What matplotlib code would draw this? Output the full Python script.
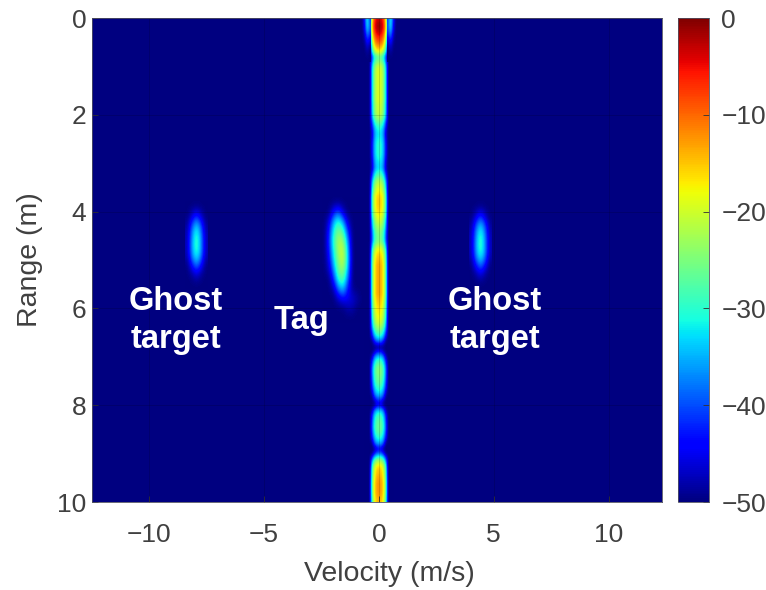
import numpy as np
import matplotlib
matplotlib.use('Agg')
import matplotlib.pyplot as plt

plt.rcParams['font.family'] = ['Liberation Sans', 'DejaVu Sans']

#Peak level of the zero-velocity column, every 0.1 m of range (dB)
center_range = np.arange(101) / 10
center_peak = [
    -3, -1.5, -1, -3, -6, -9, -13, -18, -27, -24,
    -20, -19, -19, -19, -19, -19, -19, -19, -20, -20,
    -21, -24, -28, -31, -32, -31, -30, -30, -30, -31,
    -32, -33, -29, -25, -21, -19, -17, -15, -15, -15,
    -16, -18, -20, -22, -24, -25, -25, -21, -17, -15,
    -14, -13, -13, -13, -13, -13, -13, -13, -14, -15,
    -16, -17, -18, -20, -23, -27, -32, -40, -50, -42,
    -33, -28, -25, -24, -25, -26, -28, -31, -35, -42,
    -45, -34, -29, -27, -26, -26, -28, -31, -36, -45,
    -38, -26, -19, -15, -14, -13, -12, -12, -12, -13,
    -14,
]
#Drop across the column, going out from its centre
center_offset = [-0.6, -0.5, -0.4, -0.3, -0.2, -0.1, 0, 0.1, 0.2, 0.3, 0.4, 0.5, 0.6]
center_drop = [80, 80, 38, 14, 5, 1, 0, 1, 5, 14, 38, 80, 80]
center_velocity = -0.02

#Thin side lobes at the top of the column
lobe_offset = [0.4, 0.5, 0.6, 0.7]
lobe_range = [0, 0.2, 0.4, 0.6, 0.8]
lobe_db = [
    [-41, -30, -42, -50],
    [-39, -31, -44, -50],
    [-44, -40, -48, -50],
    [-50, -47, -50, -50],
    [-50, -50, -50, -50],
]

#Ghost targets
ghost_velocity = [-7.93, 4.44]
ghost_offset = [-0.4, -0.2, 0, 0.2, 0.4]
ghost_range = [3.9, 4.1, 4.3, 4.5, 4.7, 4.9, 5.1, 5.3, 5.5]
ghost_db = [
    [-50, -50, -50, -50, -50],
    [-50, -47, -42, -47, -50],
    [-49, -40, -33, -40, -49],
    [-48, -37, -29, -37, -48],
    [-48, -36, -28, -36, -48],
    [-48, -37, -30, -37, -48],
    [-50, -43, -37, -43, -50],
    [-50, -49, -46, -49, -50],
    [-50, -50, -50, -50, -50],
]

#Tag
tag_velocity = [-2.4, -2.2, -2.0, -1.8, -1.6, -1.4, -1.2, -1.0, -0.8]
tag_range = [3.8, 4.0, 4.2, 4.4, 4.6, 4.8, 5.0, 5.2, 5.4, 5.6, 5.8, 6.0, 6.2]
tag_db = [
    [-50, -50, -50, -50, -50, -50, -50, -50, -50],
    [-50, -50, -44, -40, -47, -50, -50, -50, -50],
    [-50, -46, -35, -30, -36, -47, -50, -50, -50],
    [-50, -43, -31, -25, -28, -41, -50, -50, -50],
    [-50, -42, -29, -22, -23, -36, -50, -50, -50],
    [-50, -43, -31, -22, -20, -33, -50, -50, -50],
    [-50, -45, -33, -24, -20, -32, -50, -50, -50],
    [-50, -47, -37, -26, -23, -34, -50, -50, -50],
    [-50, -50, -42, -30, -27, -38, -50, -50, -50],
    [-50, -50, -48, -38, -34, -43, -49, -50, -50],
    [-50, -50, -50, -47, -44, -45, -46, -48, -50],
    [-50, -50, -50, -50, -50, -48, -48, -50, -50],
    [-50, -50, -50, -50, -50, -50, -50, -50, -50],
]

x_ticks = [-10, -5, 0, 5, 10]
y_ticks = [0, 2, 4, 6, 8, 10]
cbar_ticks = [0, -10, -20, -30, -40, -50]
text_color = '#404040'


def draw_patch(ax, vel, rng, values):
    #imshow wants the outer edges of the cells, not their centres
    dv = (vel[-1] - vel[0]) / (len(vel) - 1) / 2
    dr = (rng[-1] - rng[0]) / (len(rng) - 1) / 2
    ext = [vel[0] - dv, vel[-1] + dv, rng[-1] + dr, rng[0] - dr]
    return ax.imshow(values, extent=ext, cmap='jet', vmin=-50, vmax=0, aspect='auto',
                     interpolation='bicubic', interpolation_stage='data')


fig = plt.figure(figsize=(7.66, 5.9), dpi=100)
ax = fig.add_axes([92 / 766, 88 / 590, 570 / 766, 484 / 590])
ax.set_facecolor(plt.get_cmap('jet')(0.0))

center_db = np.clip(np.subtract.outer(center_peak, center_drop), -50, 0)
im = draw_patch(ax, np.array(center_offset) + center_velocity, center_range, center_db)
draw_patch(ax, np.array(lobe_offset) + center_velocity, lobe_range, lobe_db)
draw_patch(ax, center_velocity - np.array(lobe_offset), lobe_range, lobe_db)
for v in ghost_velocity:
    draw_patch(ax, np.array(ghost_offset) + v, ghost_range, ghost_db)
draw_patch(ax, tag_velocity, tag_range, tag_db)

ax.set_xlim(-12.5, 12.33)
ax.set_ylim(10, 0)
ax.set_xticks(x_ticks)
ax.set_yticks(y_ticks)
ax.grid(True, color='k', alpha=0.15, lw=0.7)
ax.tick_params(direction='in', length=4, width=0.6, color='#303030', labelcolor=text_color,
               labelsize=19)
ax.tick_params(axis='x', pad=15)
ax.tick_params(axis='y', pad=4)
for s in ax.spines.values():
    s.set_color('#505060')
    s.set_linewidth(0.6)
ax.set_xlabel('Velocity (m/s)', fontsize=20.5, color=text_color)
ax.set_ylabel('Range (m)', fontsize=20.5, color=text_color)
ax.xaxis.set_label_coords(0.521, -0.122)
ax.yaxis.set_label_coords(-0.086, 0.5)

for x, y, s in [(-8.85, 6.25, 'Ghost\ntarget'), (-3.36, 6.25, 'Tag'), (5.05, 6.25, 'Ghost\ntarget')]:
    ax.text(x, y, s, color='white', fontsize=23.5, fontweight='bold', ha='center', va='center',
            ma='center', linespacing=1.3)

cax = fig.add_axes([678 / 766, 88 / 590, 31 / 766, 484 / 590])
cbar = fig.colorbar(im, cax=cax)
cbar.set_ticks(cbar_ticks)
cbar.ax.tick_params(direction='in', length=4, width=0.6, color='#303030', labelcolor=text_color,
                    labelsize=19, pad=9)
cbar.outline.set_edgecolor('#505060')
cbar.outline.set_linewidth(0.6)

plt.savefig('out.png', dpi=100)
